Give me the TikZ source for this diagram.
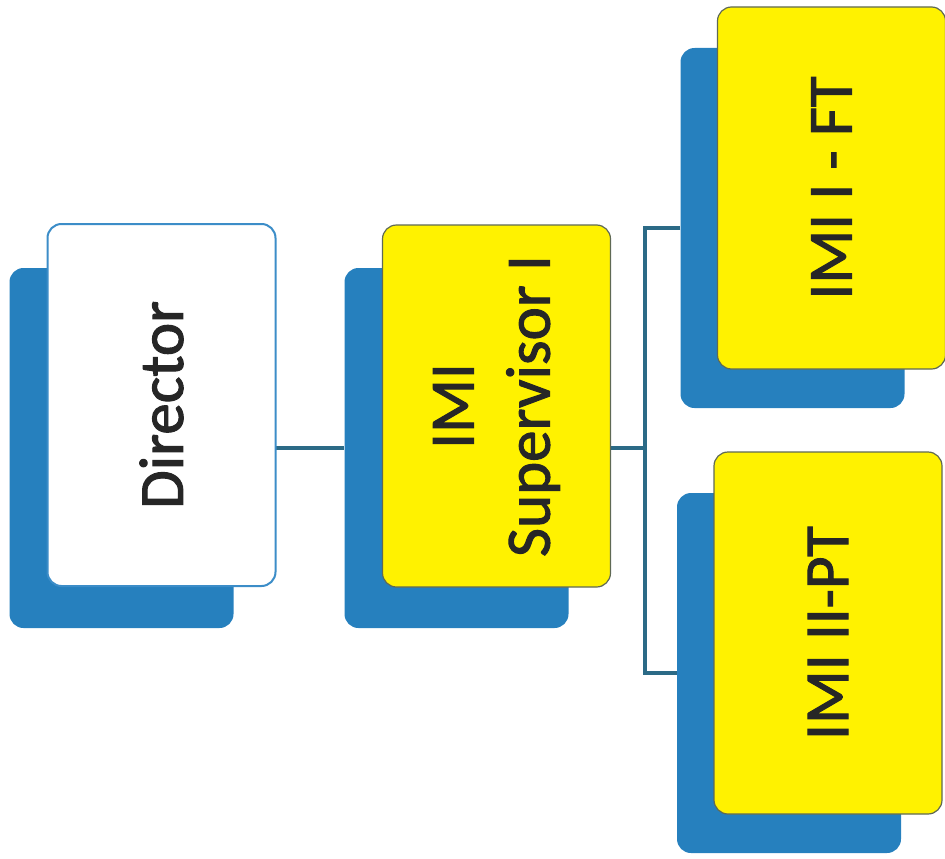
\documentclass[tikz,border=0pt]{standalone}
\usepackage{fontspec}
\setmainfont{Carlito}
\usetikzlibrary{calc}
\definecolor{boxblue}{RGB}{38,128,190}
\definecolor{boxyellow}{RGB}{255,242,0}
\definecolor{linkcol}{RGB}{43,106,134}
\definecolor{dirborder}{RGB}{60,141,200}
\definecolor{yelborder}{RGB}{95,105,85}
\definecolor{txt}{RGB}{38,38,38}
\begin{document}
\begin{tikzpicture}[x=1pt,y=-1pt,
  backbox/.style={rectangle, rounded corners=14pt, fill=boxblue, minimum width=224pt, minimum height=360pt, inner sep=0pt},
  frontbox/.style={rectangle, rounded corners=14pt, rotate=90, minimum width=362pt, minimum height=228pt, inner sep=0pt, align=center, text=txt, font=\fontsize{63}{76}\selectfont\addfontfeatures{FakeBold=1.6}},
  whitebox/.style={frontbox, fill=white, draw=dirborder, line width=2pt},
  yellowbox/.style={frontbox, fill=boxyellow, draw=yelborder, line width=1.2pt},
  link/.style={draw=linkcol, line width=3.5pt}
]
\useasboundingbox (0,0) rectangle (945,859);
% back (blue) boxes
\node[backbox] (d) at (121.5,448) {};
\node[backbox] (s) at (456.5,448) {};
\node[backbox] (ft) at (792.5,228) {};
\node[backbox] (pt) at (789,673) {};
% connectors
\coordinate (j) at (645,448);
\draw[link] (d.east) -- (s.west);
\draw[link] (s.east) -- (j);
\draw[link] (ft.west) -| (j) |- (pt.west);
% front boxes
\node[whitebox] (df) at ($(d)+(40,-43)$) {Director};
\node[yellowbox] (sf) at ($(s)+(40,-42)$) {IMI\\Supervisor I};
\node[yellowbox] (ftf) at ($(ft)+(39,-40)$) {IMI I - FT};
\node[yellowbox] (ptf) at ($(pt)+(39,-40)$) {IMI II-PT};
\end{tikzpicture}
\end{document}
